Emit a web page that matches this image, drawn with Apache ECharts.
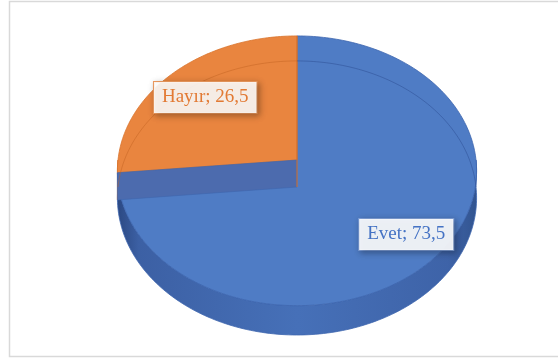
<!DOCTYPE html>
<html>
<head>
<meta charset="utf-8">
<script src="https://cdn.jsdelivr.net/npm/echarts@6/dist/echarts.min.js"></script>
<style>
  html, body { margin: 0; padding: 0; background: #ffffff; }
  #chart { width: 558px; height: 359px; }
</style>
</head>
<body>
<div id="chart"></div>
<script>
// Survey answers shown as a tilted 3D pie
const categories = ['Evet', 'Hayır'];
const values = [73.5, 26.5];

// Per-slice look
const topColors = ['#4F7CC5', '#E9853F'];
const edgeColors = ['#3E66AE', '#D9742C'];
const sideStops = [
  [[0, '#2B4882'], [0.06, '#3C60A4'], [0.5, '#4670B8'], [0.92, '#3E63A8'], [1, '#32548F']],
  [[0, '#B85F1E'], [1, '#CF6E28']]
];
const faceColors = ['#4C6BAE', '#C96A25'];
const ghostColors = ['rgba(40,70,140,0.45)', 'rgba(190,95,30,0.45)'];
const labelText = ['#4472C4', '#E27A34'];
const labelBg = ['rgba(255,255,255,0.9)', 'rgba(255,255,255,0.88)'];
const labelBorder = ['#7D9DD6', '#EE9A5E'];
const labelRadius = [0.79, 0.72];

// Projection of the pie disc: centre, radii, thickness and a mild perspective
const CX = 297, CY = 160, RX = 179, RY = 134, H = 27, K = 0.08;
function proj(theta, r, z) {
  const u = Math.sin(theta) * r, v = -Math.cos(theta) * r;
  const d = 1 / (1 - K * v);
  return [CX + RX * u * d, CY + RY * v * d + H * z * d];
}
function arc(a, b, z) {
  const pts = [];
  const n = Math.max(2, Math.ceil(Math.abs(b - a) / 0.02));
  for (let k = 0; k <= n; k++) pts.push(proj(a + (b - a) * k / n, 1, z));
  return pts;
}

const total = values.reduce((s, v) => s + v, 0);
const TWO_PI = Math.PI * 2;

function renderItem(params, api) {
  const i = params.dataIndex;
  let before = 0;
  for (let k = 0; k < i; k++) before += values[k];
  const start = before / total * TWO_PI;
  const end = start + api.value(0) / total * TWO_PI;
  const children = [];

  // front wall
  const a = Math.max(start, Math.PI / 2), b = Math.min(end, Math.PI * 1.5);
  if (b > a) {
    const pts = arc(a, b, 0).concat(arc(a, b, 1).reverse());
    children.push({
      type: 'polygon', z2: 1,
      shape: { points: pts },
      style: {
        fill: { type: 'linear', x: 0, y: 0, x2: 1, y2: 0,
                colorStops: sideStops[i].map(s => ({ offset: s[0], color: s[1] })) },
        stroke: edgeColors[i], lineWidth: 0.8
      }
    });
  }

  // top face
  children.push({
    type: 'polygon', z2: 5,
    shape: { points: [proj(0, 0, 0)].concat(arc(start, end, 0)) },
    style: { fill: topColors[i], stroke: edgeColors[i], lineWidth: 0.8 }
  });

  // cut face at the end of the slice, seen through the top
  children.push({
    type: 'polygon', z2: 6,
    shape: { points: [proj(0, 0, 0), proj(end, 1, 0), proj(end, 1, 1), proj(0, 0, 1)] },
    style: { fill: faceColors[i], stroke: edgeColors[i], lineWidth: 0.6 }
  });

  // far rim of the bottom face, faintly visible through the top
  const backRanges = [[0, Math.PI / 2], [Math.PI * 1.5, TWO_PI]];
  backRanges.forEach(r => {
    const s = Math.max(start, r[0]), e = Math.min(end, r[1]);
    if (e > s) {
      children.push({
        type: 'polyline', z2: 7,
        shape: { points: arc(s, e, 1) },
        style: { fill: 'none', stroke: ghostColors[i], lineWidth: 1 }
      });
    }
  });

  // data label
  const mid = (start + end) / 2;
  const lp = proj(mid, labelRadius[i], 0);
  const val = api.value(0).toFixed(1).replace('.', ',');
  children.push({
    type: 'text', z2: 10,
    x: lp[0], y: lp[1],
    style: {
      text: categories[i] + '; ' + val,
      font: '19px "Liberation Serif", serif',
      fill: labelText[i],
      align: 'center', verticalAlign: 'middle',
      lineHeight: 22,
      backgroundColor: labelBg[i],
      borderColor: labelBorder[i], borderWidth: 1,
      padding: [5, 8, 4, 8],
      shadowBlur: 6, shadowColor: 'rgba(0,0,0,0.3)',
      shadowOffsetX: 2, shadowOffsetY: 2
    }
  });

  return { type: 'group', children: children };
}

const chart = echarts.init(document.getElementById('chart'), null, { renderer: 'canvas' });
chart.setOption({
  animation: false,
  backgroundColor: '#ffffff',
  graphic: [{
    type: 'rect', z: 0,
    shape: { x: 9.5, y: 1.5, width: 600, height: 355 },
    style: { fill: 'none', stroke: '#D9D9D9', lineWidth: 1.5 }
  }],
  series: [{
    type: 'custom',
    coordinateSystem: 'none',
    renderItem: renderItem,
    data: categories.map((c, i) => ({ name: c, value: [values[i]] }))
  }]
});
</script>
</body>
</html>
